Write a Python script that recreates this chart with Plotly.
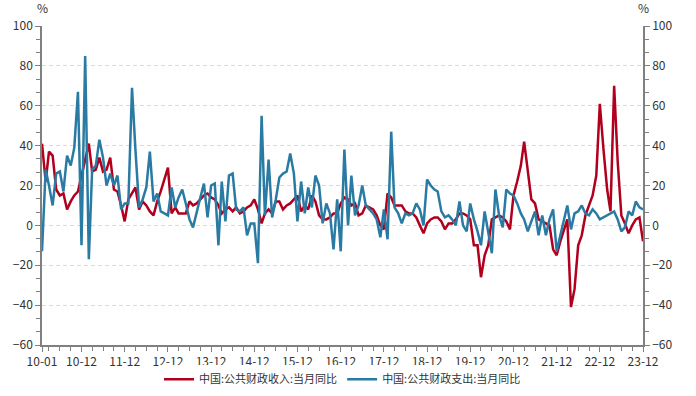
import pandas as pd
import plotly.graph_objects as go

months = pd.date_range("2010-01-01", periods=168, freq="MS")

revenue_yoy = [
    41, 22, 37, 35, 18, 15, 16, 8, 12, 15, 17, 25,
    33, 41, 27, 28, 34, 27, 28, 34, 18, 17, 10, 2,
    13, 16, 19, 8, 12, 10, 7, 5, 12, 17, 23, 29,
    6, 9, 6, 6, 6, 12, 10, 11, 13, 15, 16, 14,
    13, 10, 6, 8, 9, 7, 9, 6, 7, 9, 10, 13,
    8, 1, 6, 8, 6, 12, 12, 8, 10, 11, 13, 15,
    7, 10, 8, 15, 12, 5, 3, 3, 4, 6, 6, 11,
    14, 13, 10, 11, 5, 6, 10, 9, 8, 5, 0, -2,
    16, 14, 10, 10, 10, 7, 6, 6, 4, 0, -4, 1,
    3, 4, 4, 2, -2, 1, 1, 3, 6, 6, 5, 3,
    -10, -10, -26, -15, -10, 3, 4, 5, 4, 2, -2, 15,
    22, 30, 42, 27, 13, 11, 3, 2, 1, 0, -12, -15,
    -8, -2, 3, -41, -32, -10, -5, 5, 10, 15, 25, 61,
    38, 18, 7, 70, 32, 5, 1, -4, 0, 3, 4, -8,
]

expenditure_yoy = [
    -13, 28, 20, 10, 26, 27, 17, 35, 30, 39, 67, -10,
    85, -17, 28, 30, 43, 34, 20, 26, 20, 25, 8, 11,
    11, 69, 38, 9, 13, 19, 37, 12, 16, 7, 6, 5,
    19, 9, 14, 18, 11, 3, -1, 7, 14, 21, 4, 20,
    21, -10, 22, 2, 25, 26, 8, 7, 9, -5, 1, 1,
    -19, 55, 5, 33, 4, 13, 24, 26, 27, 36, 26, 2,
    22, 6, 19, 9, 25, 20, 1, 11, 6, -12, 13, -13,
    38, 0, 25, 5, 10, 20, 10, 8, 6, 3, -6, 8,
    -7, 47, 9, 6, 1, 6, 5, 6, 11, 8, 0, 23,
    20, 18, 17, 7, 4, 5, 3, 0, 12, 0, -3, 11,
    3, -3, -10, 7, -3, -14, 18, 5, -1, 18, 16, 15,
    11, 6, 3, -3, 2, 7, -5, 5, -5, 3, 8, -13,
    -5, 3, 10, -2, 6, 7, 10, 6, 5, 8, 6, 3,
    4, 5, 6, 7, 3, -3, -1, 7, 5, 12, 9, 8,
]

series_names = ["中国:公共财政收入:当月同比", "中国:公共财政支出:当月同比"]
tick_dates = ["2010-01-01"] + [f"{y}-12-01" for y in range(2010, 2024)]
tick_labels = ["10-01"] + [f"{str(y)[2:]}-12" for y in range(2010, 2024)]
y_ticks = [-60, -40, -20, 0, 20, 40, 60, 80, 100]

RED = "#B0001E"
BLUE = "#2A7BA3"
FONT = "Noto Sans CJK SC, Noto Sans, sans-serif"
TXT = "#333333"
AX = "#808080"

fig = go.Figure()
fig.add_trace(go.Scatter(x=months, y=revenue_yoy, name=series_names[0],
                         mode="lines", line=dict(color=RED, width=2.5)))
fig.add_trace(go.Scatter(x=months, y=expenditure_yoy, name=series_names[1],
                         mode="lines", line=dict(color=BLUE, width=2.5), yaxis="y2"))

yax = dict(range=[-60, 100], tickvals=y_ticks, ticks="outside", ticklen=5,
           tickcolor=AX, showline=True, linecolor=AX, linewidth=1.5,
           tickfont=dict(family=FONT, size=12, color=TXT),
           minor=dict(ticks="outside", ticklen=4, tickcolor=AX,
                      tick0=-60, dtick=20 / 3, showgrid=False),
           zeroline=False, fixedrange=True)

fig.update_layout(
    width=696, height=396,
    margin=dict(l=42, r=53, t=26, b=51, autoexpand=False),
    paper_bgcolor="white", plot_bgcolor="white",
    font=dict(family=FONT, size=12, color=TXT),
    showlegend=True,
    legend=dict(orientation="h", x=0.5, xanchor="center", y=-0.107, yanchor="middle",
                font=dict(family=FONT, size=11, color=TXT), itemwidth=30,
                tracegroupgap=0),
    xaxis=dict(type="date", range=["2010-01-01", "2023-12-01"],
               tickvals=tick_dates, ticktext=tick_labels,
               ticks="outside", ticklen=5, tickcolor=AX,
               showline=True, linecolor=AX, linewidth=1.5, showgrid=False,
               tickfont=dict(family=FONT, size=12, color=TXT),
               minor=dict(ticks="outside", ticklen=4, tickcolor=AX,
                          tick0="2010-03-01", dtick="M3", showgrid=False),
               zeroline=False, fixedrange=True),
    yaxis=dict(**yax, side="left", showgrid=True, gridcolor="#d9d9d9",
               gridwidth=1, griddash="4px,3px"),
    yaxis2=dict(**yax, side="right", overlaying="y", showgrid=False),
    annotations=[
        dict(text="%", xref="paper", yref="paper", x=0, y=1.058, showarrow=False,
             xanchor="center", yanchor="middle", font=dict(family=FONT, size=12, color=TXT)),
        dict(text="%", xref="paper", yref="paper", x=1, y=1.058, showarrow=False,
             xanchor="center", yanchor="middle", font=dict(family=FONT, size=12, color=TXT)),
    ],
)

fig.write_html("out.html", config={"displayModeBar": False},
               post_script="document.body.style.margin='0';")
